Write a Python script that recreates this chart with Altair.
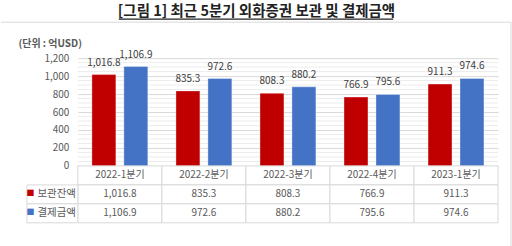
import altair as alt
import pandas as pd

categories = ["2022-1분기", "2022-2분기", "2022-3분기", "2022-4분기", "2023-1분기"]
series = ["보관잔액", "결제금액"]
custody = [1016.8, 835.3, 808.3, 766.9, 911.3]
settlement = [1106.9, 972.6, 880.2, 795.6, 974.6]
colors = ["#C00000", "#4472C4"]
y_ticks = [0, 200, 400, 600, 800, 1000, 1200]
minor_ticks = list(range(0, 1201, 50))
title_text = "[그림 1] 최근 5분기 외화증권 보관 및 결제금액"
unit_text = "(단위 : 억USD)"
header_row = "구분"

FONT = "Noto Sans CJK KR"
GRID = "#d9d9d9"
TXT = "#595959"

values = custody + settlement
bar_df = pd.DataFrame({
    "cat": categories * 2,
    "series": [s for s in series for _ in categories],
    "value": values,
})
minor_df = pd.DataFrame({"v": minor_ticks})
one_df = pd.DataFrame({"t": [title_text]})

x_enc = alt.X("cat:N", sort=categories,
              scale=alt.Scale(domain=categories, paddingInner=0, paddingOuter=0),
              axis=None)
xo_enc = alt.XOffset("series:N", sort=series,
                     scale=alt.Scale(domain=series, paddingInner=0.25, paddingOuter=0.44))
y_scale = alt.Scale(domain=[0, 1200], nice=False, zero=True)
y_axis = alt.Axis(values=y_ticks, format=",.0f", grid=True, gridColor=GRID,
                  domain=False, ticks=False, labelPadding=9,
                  labelFont=FONT, labelFontSize=10, labelColor=TXT,
                  title=unit_text, titleAngle=0, titleX=-60, titleY=-15,
                  titleAlign="left", titleBaseline="middle",
                  titleFont=FONT, titleFontSize=10, titleFontWeight="bold",
                  titleColor=TXT)
color_enc = alt.Color("series:N", sort=series,
                      scale=alt.Scale(domain=series, range=colors), legend=None)

minor = alt.Chart(minor_df).transform_filter("datum.v % 200 != 0").mark_rule(
    color="#ececec", strokeWidth=1
).encode(y=alt.Y("v:Q", scale=y_scale, axis=y_axis))

bars = alt.Chart(bar_df).mark_bar(stroke="white", strokeOpacity=0.35, strokeWidth=1).encode(
    x=x_enc, xOffset=xo_enc,
    y=alt.Y("value:Q", scale=y_scale, axis=y_axis),
    color=color_enc,
)
labels = alt.Chart(bar_df).mark_text(
    dy=-7, font=FONT, fontSize=10, color="#404040", baseline="bottom"
).encode(
    x=x_enc, xOffset=xo_enc,
    y=alt.Y("value:Q", scale=y_scale, axis=y_axis),
    text=alt.Text("value:Q", format=",.1f"),
)

# title text, decorative frame lines and title underline
title_mark = alt.Chart(one_df).mark_text(
    font=FONT, fontSize=14.5, fontWeight="bold", color="#222222",
    align="center", baseline="alphabetic"
).encode(x=alt.value(179), y=alt.value(-42), text="t:N")
anchor = alt.Chart(one_df).mark_rule(color="white", strokeWidth=1).encode(
    x=alt.value(-77), y=alt.value(-57), y2=alt.value(189))
sep = alt.Chart(one_df).mark_rule(color="#d9d9d9", strokeWidth=1).encode(
    x=alt.value(-77), x2=alt.value(434), y=alt.value(-36))
right_edge = alt.Chart(one_df).mark_rule(color="#d9d9d9", strokeWidth=1).encode(
    x=alt.value(434), y=alt.value(-36), y2=alt.value(189))
underline = alt.Chart(one_df).mark_rule(color="#222222", strokeWidth=1.2).encode(
    x=alt.value(41), x2=alt.value(316), y=alt.value(-39))

bar_panel = alt.layer(anchor, minor, bars, labels, sep, right_edge, underline,
                      title_mark).properties(width=421, height=108)

# table
rows = [header_row] + series
cell_records = []
for i, c in enumerate(categories):
    cell_records.append({"cat": c, "row": header_row, "txt": c})
    cell_records.append({"cat": c, "row": series[0], "txt": f"{custody[i]:,.1f}"})
    cell_records.append({"cat": c, "row": series[1], "txt": f"{settlement[i]:,.1f}"})
cell_df = pd.DataFrame(cell_records)
label_df = pd.DataFrame({"col": ["label"] * 2, "row": series, "series": series})

y_row = alt.Y("row:N", sort=rows,
              scale=alt.Scale(domain=rows, paddingInner=0, paddingOuter=0), axis=None)
x_tab = alt.X("cat:N", sort=categories,
              scale=alt.Scale(domain=categories, paddingInner=0, paddingOuter=0), axis=None)
x_lab = alt.X("col:N", scale=alt.Scale(domain=["label"], range=[-51, 0],
                                       paddingInner=0, paddingOuter=0), axis=None)

cells = alt.Chart(cell_df).mark_rect(fill="white", stroke=GRID, strokeWidth=1).encode(
    x=x_tab, y=y_row)
cell_text = alt.Chart(cell_df).mark_text(font=FONT, fontSize=10, color=TXT).encode(
    x=x_tab, y=y_row, text="txt:N")
lab_cells = alt.Chart(label_df).mark_rect(fill="white", stroke=GRID, strokeWidth=1).encode(
    x=x_lab, y=y_row)
lab_text = alt.Chart(label_df).mark_text(font=FONT, fontSize=10.5, color=TXT,
                                         align="left", dx=-15).encode(
    x=x_lab, y=y_row, text="row:N")
lab_sq = alt.Chart(label_df).mark_text(font=FONT, fontSize=8, align="center", dx=-22).encode(
    x=x_lab, y=y_row, text=alt.value("■"), color=color_enc)

table_panel = alt.layer(cells, cell_text, lab_cells, lab_text, lab_sq).resolve_scale(
    x="independent").properties(width=421, height=57)

chart = alt.vconcat(bar_panel, table_panel, spacing=0, bounds="flush").properties(
    padding=0,
    background="white",
).configure_view(stroke=None)

chart.save("out.html", embed_options={"renderer": "svg", "actions": False})
